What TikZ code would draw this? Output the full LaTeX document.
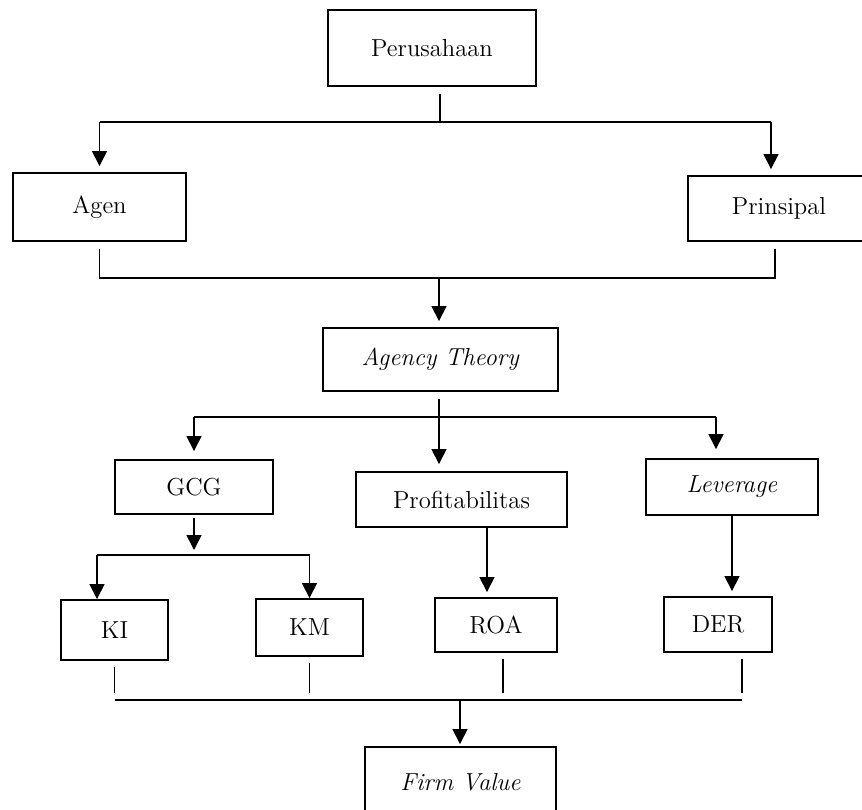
\documentclass[tikz,border=0pt]{standalone}
\usetikzlibrary{arrows.meta}

\tikzset{
  box/.style={draw,rectangle,line width=1.1pt,inner sep=0pt,font=\fontsize{14}{16}\selectfont},
  conn/.style={line width=0.6pt},
  arr/.style={line width=0.9pt,-{Triangle[length=0.3cm,width=0.3cm]}}
}

\begin{document}
\begin{tikzpicture}[x=0.02cm,y=-0.02cm]
  \useasboundingbox (0,0) rectangle (862,809);

  \node [box,minimum width=4.16cm,minimum height=1.52cm] (per) at (432,48) {Perusahaan};
  \node [box,minimum width=3.46cm,minimum height=1.36cm] (agen) at (99.5,207) {Agen};
  \node [box,minimum width=3.64cm,minimum height=1.30cm] (prin) at (779,208.5) {Prinsipal};
  \node [box,minimum width=4.70cm,minimum height=1.26cm] (agency) at (440.5,359.5) {\textit{Agency Theory}};
  \node [box,minimum width=3.16cm,minimum height=1.08cm] (gcg) at (194,487) {GCG};
  \node [box,minimum width=4.22cm,minimum height=1.10cm] (prof) at (461.5,499.5) {Profitabilitas};
  \node [box,minimum width=3.44cm,minimum height=1.12cm] (lev) at (732,487) {\textit{Leverage}};
  \node [box,minimum width=2.14cm,minimum height=1.20cm] (ki) at (114.5,630) {KI};
  \node [box,minimum width=2.14cm,minimum height=1.14cm] (km) at (309.5,627.5) {KM};
  \node [box,minimum width=2.44cm,minimum height=1.08cm] (roa) at (496,625) {ROA};
  \node [box,minimum width=2.16cm,minimum height=1.10cm] (der) at (718,624.5) {DER};
  \node [box,minimum width=3.82cm,minimum height=1.40cm] (firm) at (460.5,782) {\textit{Firm Value}};

  % junctions
  \coordinate (j1) at (440,122);
  \coordinate (j2) at (439,278);
  \coordinate (j3) at (439,417);
  \coordinate (j4) at (194,555);
  \coordinate (j5) at (460,700);
  \coordinate (prinin) at ([xshift=-0.16cm]prin.north);
  \coordinate (prinout) at ([xshift=-0.08cm]prin.south);
  \coordinate (levin) at ([xshift=-0.32cm]lev.north);
  \coordinate (kiin) at ([xshift=-0.35cm]ki.north);
  \coordinate (profout) at ([xshift=0.51cm]prof.south);
  \coordinate (roaout) at ([xshift=0.14cm]roa.south);
  \coordinate (derout) at ([xshift=0.48cm]der.south);

  % Perusahaan -> Agen, Prinsipal
  \draw [conn,shorten <=0.14cm] (per.south -| j1) -- (j1);
  \draw [conn] (agen |- j1) -- (prinin |- j1);
  \foreach \n in {agen.north,prinin}
    \draw [arr,shorten >=0.12cm] (\n |- j1) -- (\n);

  % Agen, Prinsipal -> Agency Theory
  \draw [conn,shorten <=0.14cm,shorten >=0.14cm] (agen.south) |- (j2) -| (prinout);
  \draw [arr,shorten >=0.12cm] (j2) -- (j2 |- agency.north);

  % Agency Theory -> GCG, Profitabilitas, Leverage
  \draw [arr,shorten <=0.14cm,shorten >=0.14cm] (agency.south -| j3) -- (j3 |- prof.north);
  \draw [conn] (gcg |- j3) -- (levin |- j3);
  \draw [arr,shorten >=0.16cm] (gcg |- j3) -- (gcg);
  \draw [arr,shorten >=0.18cm] (levin |- j3) -- (levin);

  % GCG -> KI, KM
  \draw [arr,shorten <=0.06cm,shorten >=0.1cm] (gcg) -- (j4);
  \draw [conn] (kiin |- j4) -- (km |- j4);
  \draw [arr] (kiin |- j4) -- (kiin);
  \draw [arr] (km |- j4) -- (km);

  % Profitabilitas -> ROA, Leverage -> DER
  \draw [arr,shorten >=0.1cm] (profout) -- (profout |- roa.north);
  \draw [arr,shorten >=0.1cm] (lev) -- (lev |- der.north);

  % KI, KM, ROA, DER -> Firm Value
  \foreach \s in {ki.south,km.south,roaout,derout}
    \draw [conn,shorten <=0.12cm,shorten >=0.14cm] (\s) -- (\s |- j5);
  \draw [conn] (ki.south |- j5) -- (derout |- j5);
  \draw [arr,shorten >=0.04cm] (j5) -- (j5 |- firm.north);
\end{tikzpicture}
\end{document}
